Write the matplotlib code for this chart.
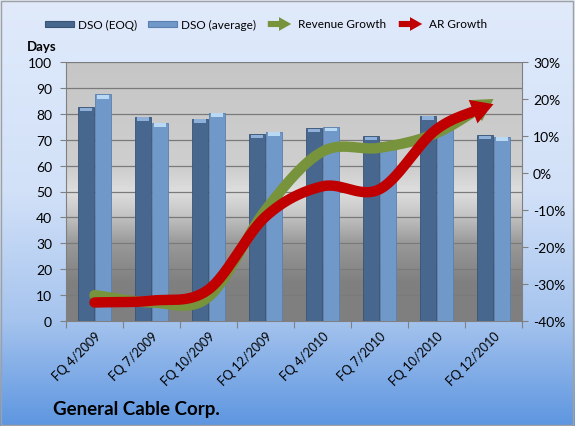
import numpy as np
import matplotlib
matplotlib.use('Agg')
import matplotlib.pyplot as plt
from matplotlib.colors import LinearSegmentedColormap
from matplotlib.patches import Rectangle, FancyArrowPatch

plt.rcParams['font.family'] = ['Lato', 'DejaVu Sans']

categories = ['FQ 4/2009', 'FQ 7/2009', 'FQ 10/2009', 'FQ 12/2009',
              'FQ 4/2010', 'FQ 7/2010', 'FQ 10/2010', 'FQ 12/2010']
dso_eoq = [82.5, 78.9, 78.1, 72.3, 74.4, 71.5, 79.3, 71.8]
dso_avg = [87.5, 76.6, 80.5, 73.1, 75.0, 69.0, 75.0, 71.2]
revenue_growth = [-33.0, -35.0, -33.5, -10.0, 5.8, 6.8, 10.8, 20.0]
ar_growth = [-35.0, -34.5, -31.5, -11.8, -3.6, -4.4, 11.8, 18.6]

days_ticks = list(range(0, 101, 10))
pct_ticks = list(range(-40, 31, 10))

EOQ_COL = '#47678f'
AVG_COL = '#7099c9'
GREEN = '#77933c'
RED = '#c00000'
W, H = 575, 427


def smooth(xs, ys, n=30):
    # catmull-rom through the points, like excel's smoothed line
    xs = np.asarray(xs, float); ys = np.asarray(ys, float)
    px = np.concatenate([[2*xs[0]-xs[1]], xs, [2*xs[-1]-xs[-2]]])
    py = np.concatenate([[2*ys[0]-ys[1]], ys, [2*ys[-1]-ys[-2]]])
    ox, oy = [], []
    for i in range(1, len(px)-2):
        t = np.linspace(0, 1, n, endpoint=False)
        for p, out in ((px, ox), (py, oy)):
            p0, p1, p2, p3 = p[i-1], p[i], p[i+1], p[i+2]
            out.extend(0.5*((2*p1) + (-p0+p2)*t + (2*p0-5*p1+4*p2-p3)*t**2
                            + (-p0+3*p1-3*p2+p3)*t**3))
    ox.append(xs[-1]); oy.append(ys[-1])
    return np.array(ox), np.array(oy)


fig = plt.figure(figsize=(5.75, 4.27), dpi=100)

# figure background gradient
bg = fig.add_axes([0, 0, 1, 1], zorder=-10)
bg_cmap = LinearSegmentedColormap.from_list('bg', [(0, '#5e96e0'), (0.25, '#a6c4ee'),
                                                     (0.55, '#d2e1f8'), (1, '#e0eafb')])
bg.imshow(np.linspace(0, 1, 256).reshape(-1, 1), cmap=bg_cmap, origin='lower',
          extent=[0, W, 0, H], aspect='auto')
bg.add_patch(Rectangle((1, 1), W-3, H-3, fill=False, ec='#a0a0a0', lw=1))
bg.set_xlim(0, W); bg.set_ylim(0, H)
bg.axis('off')

ax = fig.add_axes([66/W, 1-322/H, 456/W, 259/H])
ax.set_facecolor('none')
pa_cmap = LinearSegmentedColormap.from_list('pa', [(0, '#7f7f7f'), (0.15, '#808080'),
                                                     (0.30, '#999999'), (0.42, '#c8c8c8'),
                                                     (0.50, '#dedede'), (0.58, '#cfcfcf'),
                                                     (1, '#c6c6c6')])
ax.imshow(np.linspace(0, 1, 256).reshape(-1, 1), cmap=pa_cmap, origin='lower',
          extent=[0, 1, 0, 1], transform=ax.transAxes, aspect='auto', zorder=0)

x = np.arange(len(categories))
w = 0.28
ax.bar(x - 0.145, dso_eoq, w, color=EOQ_COL, edgecolor='#3a5476', lw=0.6, zorder=3)
ax.bar(x + 0.145, dso_avg, w, color=AVG_COL, edgecolor='#5b7fae', lw=0.6, zorder=3)
# light caps on the cylinder tops
ax.bar(x - 0.145, 1.3, w*0.75, bottom=np.array(dso_eoq)-1.6, color='#8fb0d8', lw=0, zorder=4)
ax.bar(x + 0.145, 1.3, w*0.75, bottom=np.array(dso_avg)-1.6, color='#b8d8f4', lw=0, zorder=4)

ax.set_xlim(-0.5, len(categories)-0.5)
ax.set_ylim(0, 100)
ax.set_yticks(days_ticks)
ax.yaxis.grid(True, color='#7a7a7a', lw=0.9, zorder=1)
ax.set_axisbelow(False)
ax.set_xticks(np.arange(-0.5, len(categories)))
ax.set_xticklabels([])
ax.set_xticks(x, minor=True)
ax.set_xticklabels(categories, minor=True, rotation=45, ha='right', va='top',
                   rotation_mode='anchor', fontsize=9)
ax.tick_params(axis='x', which='major', direction='out', length=5, color='#808080')
ax.tick_params(axis='x', which='minor', length=0, pad=6)
ax.tick_params(axis='y', direction='out', length=4, color='#808080', labelsize=10, pad=6)
for s in ['top', 'right']:
    ax.spines[s].set_visible(False)
for s in ['left', 'bottom']:
    ax.spines[s].set_color('#808080')

ax2 = ax.twinx()
ax2.set_ylim(-40, 30)
ax2.set_yticks(pct_ticks)
ax2.set_yticklabels([f'{t}%' for t in pct_ticks])
ax2.tick_params(axis='y', direction='out', length=4, color='#808080', labelsize=10, pad=4)
for s in ['top', 'left', 'bottom']:
    ax2.spines[s].set_visible(False)
ax2.spines['right'].set_color('#808080')

for vals, col in ((revenue_growth, GREEN), (ar_growth, RED)):
    sx, sy = smooth(x, vals)
    cut = len(sx) - 12
    ax2.plot(sx[:cut], sy[:cut], color=col, lw=7.5, solid_capstyle='round', zorder=5)
    ax2.annotate('', xy=(sx[-1], sy[-1]), xytext=(sx[cut-2], sy[cut-2]),
                 arrowprops=dict(arrowstyle='simple,head_width=1.5,head_length=1.3,tail_width=0.6',
                                 color=col, lw=0, shrinkA=0, shrinkB=0, mutation_scale=12),
                 zorder=5)

fig.text(27/W, 1-47/H, 'Days', fontsize=9.5, fontweight='bold', ha='left', va='center')
fig.text(53/W, 1-410/H, 'General Cable Corp.', fontsize=13.5, fontweight='bold',
         ha='left', va='center')

# legend drawn by hand in pixel coords of the background axes
ly = H - 25
bg.add_patch(Rectangle((45, ly-3), 29, 6, fc=EOQ_COL, ec='#3a5476', lw=0.8))
bg.text(78, ly, 'DSO (EOQ)', fontsize=8.5, va='center', ha='left')
bg.add_patch(Rectangle((148, ly-3), 29, 6, fc=AVG_COL, ec='#5b7fae', lw=0.8))
bg.text(181, ly, 'DSO (average)', fontsize=8.5, va='center', ha='left')
for x0, col, lab in ((265, GREEN, 'Revenue Growth'), (396, RED, 'AR Growth')):
    bg.add_patch(FancyArrowPatch((x0, ly), (x0+29, ly), color=col, lw=0, mutation_scale=5.5,
                                 arrowstyle='simple,head_width=1.8,head_length=1.6,tail_width=0.8'))
    bg.text(x0+33, ly, lab, fontsize=8.5, va='center', ha='left')

fig.savefig('out.png', dpi=100)
